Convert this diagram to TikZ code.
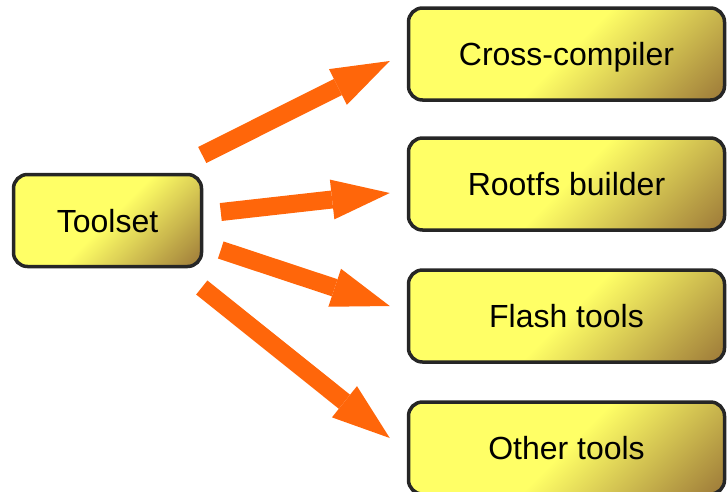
\documentclass[tikz,border=0pt]{standalone}
\usepackage{fontspec}
\setmainfont{Liberation Sans}
\usetikzlibrary{arrows.meta,calc}
\definecolor{boxyellow}{HTML}{FFFF66}
\definecolor{boxbrown}{HTML}{9C7838}
\definecolor{arroworange}{HTML}{FF660A}
\tikzset{
  toolbox/.style={draw=black!85, line width=3.5pt, rounded corners=14pt,
    inner sep=0pt, minimum height=92pt, text height=23pt, text depth=0pt,
    path picture={
      \begin{scope}[transform canvas={rotate around={-45:(path picture bounding box.center)}}]
        \shade[left color=boxyellow, right color=boxbrown, middle color=boxyellow]
          ($(path picture bounding box.center)+(-#1,-#1)$) rectangle
          ($(path picture bounding box.center)+(#1,#1)$);
      \end{scope}},
    font=\fontsize{32}{38}\selectfont},
  bigarrow/.style={draw=arroworange, line width=18pt,
    -{Triangle[length=58pt,width=40pt,line width=0pt]}}
}
\begin{document}
\begin{tikzpicture}[x=1pt,y=-1pt]
\useasboundingbox (0,0) rectangle (727,491);
\node[toolbox=99, minimum width=188pt] (ts) at (107.5,220.5) {Toolset};
\node[toolbox=144.3, minimum width=316pt] (cc) at (566.5,54) {Cross-compiler};
\node[toolbox=144.3, minimum width=316pt] (rb) at (566.5,184) {Rootfs builder};
\node[toolbox=144.3, minimum width=316pt] (ft) at (566.5,316) {Flash tools};
\node[toolbox=144.3, minimum width=316pt] (ot) at (566.5,448) {Other tools};
\coordinate (s1) at ($(ts.east)+(-1,-65.5)$);
\coordinate (s2) at ($(ts.east)+(17.5,-8.5)$);
\coordinate (s3) at ($(ts.east)+(17.5,29.5)$);
\coordinate (s4) at ($(ts.east)+(-1.5,67)$);
\coordinate (e1) at ($(cc.west)+(-17,7)$);
\coordinate (e2) at ($(rb.west)+(-17,9)$);
\coordinate (e3) at ($(ft.west)+(-17,-10)$);
\coordinate (e4) at ($(ot.west)+(-17,-10)$);
\draw[bigarrow] (s1) -- (e1);
\draw[bigarrow] (s2) -- (e2);
\draw[bigarrow] (s3) -- (e3);
\draw[bigarrow] (s4) -- (e4);
\end{tikzpicture}
\end{document}
